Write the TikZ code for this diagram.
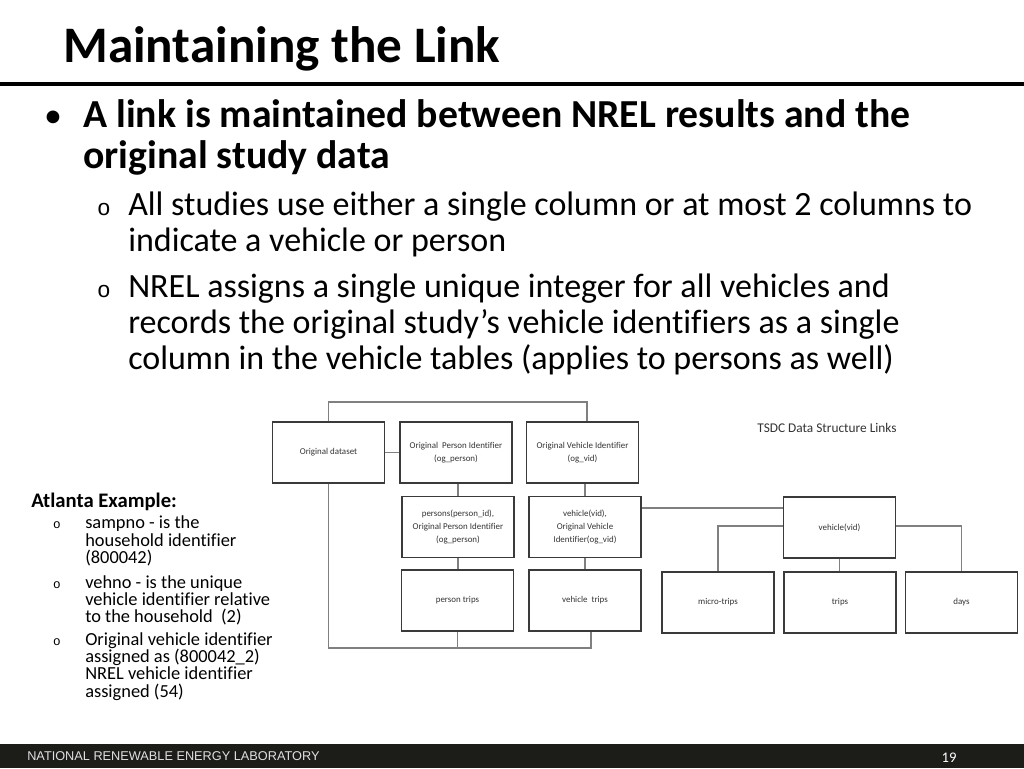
\documentclass[tikz,border=0pt]{standalone}
\usepackage{fontspec}
\setmainfont{Carlito}[Ligatures=NoCommon]
\newfontfamily\footfont{Liberation Sans}
\definecolor{barcol}{HTML}{1C1C19}
\definecolor{boxline}{HTML}{3A3A3A}
\definecolor{conn}{HTML}{808080}
\definecolor{boxtext}{HTML}{333333}
\begin{document}
\begin{tikzpicture}[x=0.75pt,y=-0.75pt,
  tbox/.style={draw=boxline, line width=0.8pt, fill=white, minimum width=84pt, minimum height=45.75pt,
     inner sep=1pt, align=center, text=boxtext, font=\fontsize{6.7}{9.5}\selectfont},
  conline/.style={draw=conn, line width=0.9pt},
  ttl/.style={anchor=base west, inner sep=0pt, font=\bfseries\fontsize{38.4}{40}\selectfont},
  mainline/.style={anchor=base west, inner sep=0pt, font=\bfseries\fontsize{29.8}{32}\selectfont},
  subline/.style={anchor=base west, inner sep=0pt, font=\fontsize{25.5}{27}\selectfont},
  subdot/.style={anchor=base, inner sep=0pt, font=\footfont\fontsize{17}{17}\selectfont},
  leftline/.style={anchor=base west, inner sep=0pt, font=\fontsize{13.8}{13}\selectfont},
  leftdot/.style={anchor=base, inner sep=0pt, font=\footfont\fontsize{9.5}{10}\selectfont}
]
\useasboundingbox (0,0) rectangle (1024,768);
\fill[white] (0,0) rectangle (1024,768);

% title
\node[ttl] (title) at (63,62) {Maintaining the Link};
\fill[black] (0,82) rectangle (1024,86);

% main bullet
\node[anchor=base, inner sep=0pt, font=\fontsize{27}{30}\selectfont] (bul1) at (53,127) {•};
\node[mainline] (m1) at (83,127) {A link is maintained between NREL results and the};
\node[mainline] (m2) at (83,168) {original study data};

% sub bullets
\node[subdot] (sb1) at (104,215) {o};
\node[subline] (s1) at (128,215) {All studies use either a single column or at most 2 columns to};
\node[subline] (s2) at (128,251) {indicate a vehicle or person};
\node[subdot] (sb2) at (104,297) {o};
\node[subline] (s3) at (128,297) {NREL assigns a single unique integer for all vehicles and};
\node[subline] (s4) at (128,333) {records the original study’s vehicle identifiers as a single};
\node[subline] (s5) at (128,369) {column in the vehicle tables (applies to persons as well)};

% left example
\node[anchor=base west, inner sep=0pt, font=\bfseries\fontsize{15.5}{13}\selectfont] (atl) at (31,507) {Atlanta Example:};
\node[leftdot] (ld1) at (57,528) {o};
\node[leftline] (a1) at (85,528) {sampno - is the};
\node[leftline] (a2) at (85,546) {household identifier};
\node[leftline] (a3) at (85,563) {(800042)};
\node[leftdot] (ld2) at (57,588) {o};
\node[leftline] (a4) at (85,588) {vehno - is the unique};
\node[leftline] (a5) at (85,605) {vehicle identifier relative};
\node[leftline] (a6) at (85,622) {to the household~ (2)};
\node[leftdot] (ld3) at (57,645) {o};
\node[leftline] (a7) at (85,645) {Original vehicle identifier};
\node[leftline] (a8) at (85,662) {assigned as (800042\_2)};
\node[leftline] (a9) at (85,679) {NREL vehicle identifier};
\node[leftline] (a10) at (85,697) {assigned (54)};

% diagram
\node[anchor=base, inner sep=0pt, font=\fontsize{10}{12}\selectfont, text=boxtext] (tsdc) at (827,432) {TSDC Data Structure Links};

\node[tbox] (od) at (328.5,452.5) {Original dataset};
\node[tbox] (opi) at (456,452.5) {Original~ Person Identifier\\(og\_person)};
\node[tbox] (ovi) at (582.5,452.5) {Original Vehicle Identifier\\(og\_vid)};
\node[tbox] (pers) at (458,527) {persons(person\_id),\\Original Person Identifier\\(og\_person)};
\node[tbox] (vorig) at (585,527) {vehicle(vid),\\Original Vehicle\\Identifier(og\_vid)};
\node[tbox] (ptrips) at (457.5,600.5) {person trips};
\node[tbox] (vtrips) at (585,600.5) {vehicle~ trips};
\node[tbox] (veh) at (839.5,527.5) {vehicle(vid)};
\node[tbox] (micro) at (718,602.5) {micro-trips};
\node[tbox] (trips) at (840,602.5) {trips};
\node[tbox] (days) at (961.5,602.5) {days};

\coordinate (ttop) at (587,402);
\coordinate (bbot) at (591,648);
\coordinate (h1) at (700,508);
\coordinate (h2) at (700,526);

\draw[conline] (od.north) |- (ttop) -- (ttop |- ovi.north);
\draw[conline] (od.east) -- (opi.west);
\draw[conline] (pers.north) -- (pers.north |- opi.south);
\draw[conline] (vorig.north) -- (vorig.north |- ovi.south);
\draw[conline] (pers.south) -- (pers.south |- ptrips.north);
\draw[conline] (vorig.south) -- (vorig.south |- vtrips.north);
\draw[conline] (od.south) |- (bbot) -- (bbot |- vtrips.south);
\draw[conline] (ptrips.south) -- (ptrips.south |- bbot);
\draw[conline] (vorig.east |- h1) -- (veh.west |- h1);
\draw[conline] (veh.west |- h2) -| (micro.north);
\draw[conline] (veh.east |- h2) -| (days.north);
\draw[conline] (veh.south) -- (veh.south |- trips.north);

% footer
\fill[barcol] (0,744) rectangle (1024,768);
\node[anchor=base west, inner sep=0pt, text=black!12, font=\footfont\fontsize{9.55}{10}\selectfont] (foot) at (27,760) {NATIONAL RENEWABLE ENERGY LABORATORY};
\node[anchor=base, inner sep=0pt, text=white, font=\fontsize{11}{12}\selectfont] (pnum) at (949,762) {19};
\end{tikzpicture}
\end{document}
